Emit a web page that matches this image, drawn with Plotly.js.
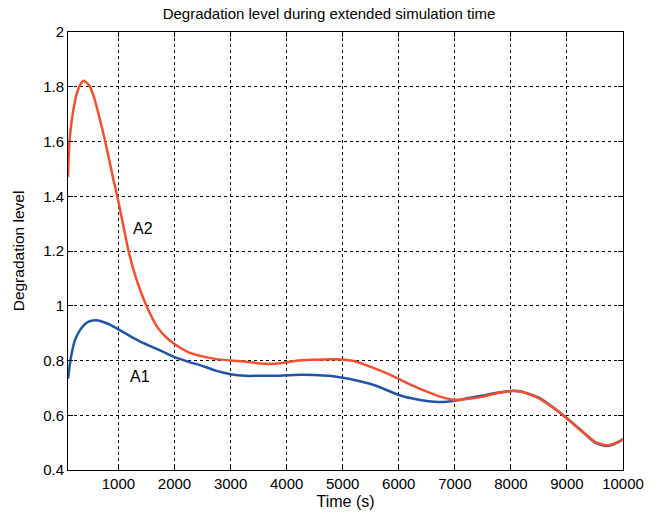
<!DOCTYPE html>
<html>
<head>
<meta charset="utf-8">
<script src="https://cdn.plot.ly/plotly-3.0.1.min.js"></script>
<style>html,body{margin:0;padding:0;background:#fff}#chart{width:658px;height:519px}</style>
</head>
<body>
<div id="chart"></div>
<script>
// Time (s)
var timeA2 = [100,120,150,200,250,315,373,430,492,550,611,670,730,790,849,910,968,1050,1180,1300,1400,1520,1700,1850,2000,2250,2500,2750,3000,3300,3600,3900,4200,4500,4800,5000,5200,5500,5800,6000,6250,6500,6750,7000,7250,7500,7750,8000,8200,8500,8750,9000,9250,9500,9700,9850,10000];
var levelA2 = [1.47,1.58,1.65,1.72,1.77,1.806,1.822,1.815,1.80,1.77,1.727,1.68,1.63,1.575,1.52,1.46,1.41,1.33,1.20,1.11,1.05,0.99,0.92,0.885,0.86,0.83,0.815,0.805,0.80,0.795,0.788,0.79,0.80,0.803,0.805,0.804,0.798,0.777,0.752,0.733,0.708,0.686,0.667,0.656,0.66,0.668,0.68,0.688,0.685,0.662,0.628,0.588,0.545,0.503,0.49,0.497,0.512];
var timeA1 = [100,136,180,225,314,433,540,640,790,1000,1200,1400,1740,2000,2250,2500,2750,3000,3250,3500,3750,4000,4250,4500,4750,5000,5250,5500,5750,6000,6250,6500,6750,7000,7250,7500,7750,8000,8200,8500,8750,9000,9250,9500,9700,9850,10000];
var levelA1 = [0.733,0.79,0.84,0.875,0.911,0.938,0.946,0.946,0.936,0.914,0.89,0.868,0.837,0.812,0.795,0.78,0.762,0.75,0.744,0.744,0.744,0.746,0.748,0.747,0.744,0.737,0.727,0.714,0.695,0.674,0.661,0.652,0.648,0.653,0.663,0.672,0.682,0.689,0.686,0.664,0.629,0.589,0.545,0.5,0.488,0.495,0.512];
var xTicks = [1000,2000,3000,4000,5000,6000,7000,8000,9000,10000];
var yTicks = [0.4,0.6,0.8,1,1.2,1.4,1.6,1.8,2];
var labels = [{text:'A2', x:1437, y:1.284},{text:'A1', x:1392, y:0.743}];

var traces = [
  {x: timeA1, y: levelA1, mode:'lines', line:{color:'#1f55a5', width:2.5, shape:'spline', smoothing:0.6}, name:'A1'},
  {x: timeA2, y: levelA2, mode:'lines', line:{color:'#f24f2e', width:2.5, shape:'spline', smoothing:0.6}, name:'A2'}
];
var axisCommon = {showline:true, linecolor:'#000', linewidth:1, mirror:'ticks', ticks:'inside', ticklen:5, tickcolor:'#000',
  showgrid:true, gridcolor:'#000', gridwidth:1, griddash:'dot', zeroline:false,
  tickfont:{family:'Arial, Liberation Sans, sans-serif', size:15, color:'#000'}};
var layout = {
  width:658, height:519,
  margin:{l:68, r:35, t:32, b:49},
  paper_bgcolor:'#fff', plot_bgcolor:'#fff',
  showlegend:false,
  font:{family:'Arial, Liberation Sans, sans-serif', color:'#000'},
  title:{text:'Degradation level during extended simulation time', font:{size:15, color:'#000'}, x:0.5, xanchor:'center', y:1-14/519, yanchor:'middle'},
  xaxis: Object.assign({}, axisCommon, {range:[100,10000], tickvals:xTicks, ticktext:xTicks.map(String),
    title:{text:'Time (s)', font:{size:16}, standoff:4}}),
  yaxis: Object.assign({}, axisCommon, {range:[0.4,2], tickvals:yTicks, ticktext:yTicks.map(String),
    title:{text:'Degradation level', font:{size:15.5}, standoff:14}}),
  annotations: labels.map(function(l){return {text:l.text, x:l.x, y:l.y, xref:'x', yref:'y', showarrow:false, font:{size:16, color:'#000'}};})
};
Plotly.newPlot('chart', traces, layout, {displayModeBar:false, staticPlot:true});
</script>
</body>
</html>
